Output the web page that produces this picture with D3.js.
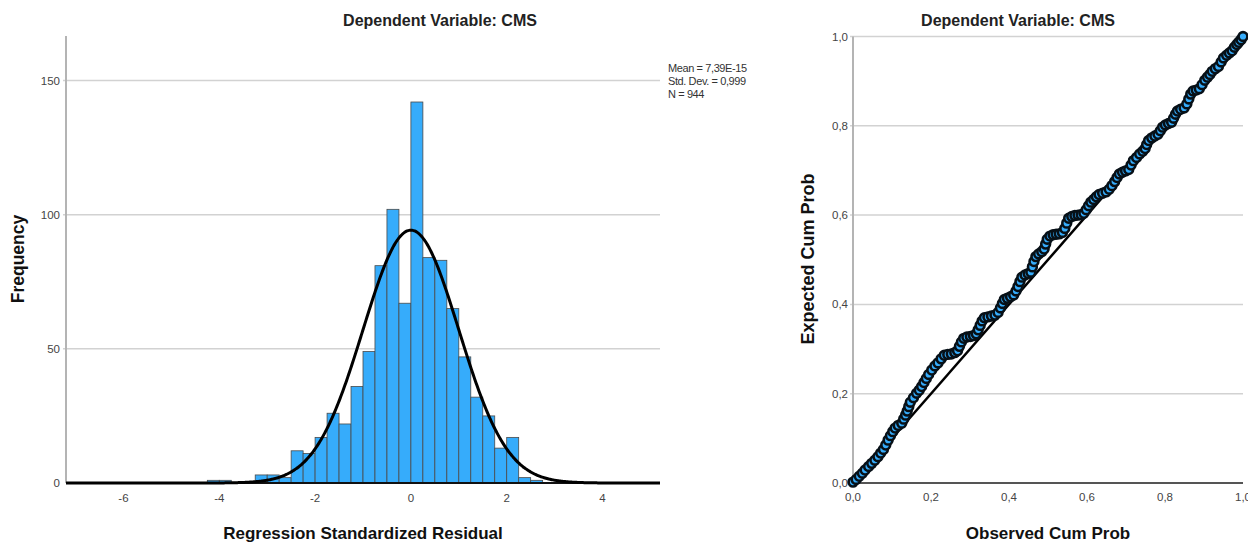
<!DOCTYPE html>
<html>
<head>
<meta charset="utf-8">
<script src="https://cdn.jsdelivr.net/npm/d3@7"></script>
<style>
  html, body { margin: 0; padding: 0; background: #fff; }
  svg { display: block; }
  text { font-family: "Liberation Sans", Arial, sans-serif; }
</style>
</head>
<body>
<svg id="chart" width="1248" height="542"></svg>
<script>
// ---------- Data ----------
const chartTitle = "Dependent Variable: CMS";
// Histogram of regression standardized residuals (bin left edges, width 0.25)
const binStarts = [-4.25, -4.0, -3.75, -3.5, -3.25, -3.0, -2.75, -2.5, -2.25, -2.0, -1.75, -1.5, -1.25, -1.0,
                   -0.75, -0.5, -0.25, 0.0, 0.25, 0.5, 0.75, 1.0, 1.25, 1.5, 1.75, 2.0, 2.25, 2.5];
const binCounts = [1, 1, 0, 0, 3, 3, 2, 12, 11, 17, 26, 22, 36, 49,
                   81, 102, 67, 142, 84, 83, 65, 47, 32, 25, 13, 17, 2, 1];
const binWidth = 0.25;
const histXTicks = [-6, -4, -2, 0, 2, 4];
const histYTicks = [0, 50, 100, 150];
const statLabels = ["Mean = 7,39E-15", "Std. Dev. = 0,999", "N = 944"];
const statMean = 7.39e-15, statSD = 0.999, statN = 944;

// Normal P-P plot (observed vs expected cumulative probability)
const ppObs = [0.000,0.008,0.016,0.024,0.031,0.040,0.048,0.056,0.064,0.071,0.078,0.084,0.090,0.096,0.102,0.108,0.116,0.125,
  0.130,0.135,0.139,0.143,0.147,0.155,0.163,0.170,0.176,0.182,0.188,0.194,0.202,0.210,0.218,0.226,0.234,0.243,0.252,0.261,
  0.268,0.273,0.278,0.284,0.292,0.301,0.309,0.316,0.321,0.326,0.331,0.337,0.346,0.355,0.364,0.372,0.378,0.383,0.388,0.396,
  0.404,0.412,0.418,0.423,0.428,0.433,0.441,0.449,0.456,0.460,0.464,0.469,0.476,0.484,0.490,0.494,0.498,0.505,0.513,0.521,
  0.529,0.537,0.543,0.548,0.553,0.561,0.569,0.577,0.585,0.592,0.598,0.604,0.610,0.617,0.624,0.631,0.640,0.649,0.657,0.664,
  0.671,0.677,0.683,0.691,0.699,0.707,0.713,0.719,0.727,0.735,0.743,0.749,0.753,0.758,0.766,0.774,0.782,0.788,0.794,0.801,
  0.809,0.817,0.822,0.827,0.832,0.840,0.849,0.856,0.861,0.866,0.872,0.880,0.888,0.895,0.902,0.909,0.915,0.921,0.929,0.937,
  0.944,0.950,0.958,0.965,0.972,0.978,0.984,0.989,0.995,1.000];
const ppExp = [0.002,0.008,0.015,0.022,0.029,0.037,0.044,0.051,0.059,0.067,0.075,0.085,0.096,0.106,0.115,0.123,0.129,0.134,
  0.143,0.152,0.161,0.171,0.181,0.191,0.201,0.208,0.216,0.225,0.234,0.243,0.253,0.262,0.269,0.278,0.286,0.288,0.289,0.292,
  0.296,0.306,0.316,0.324,0.327,0.328,0.330,0.334,0.343,0.353,0.363,0.370,0.372,0.374,0.376,0.382,0.392,0.402,0.411,0.414,
  0.417,0.421,0.430,0.440,0.451,0.461,0.466,0.469,0.472,0.484,0.496,0.507,0.513,0.518,0.524,0.535,0.546,0.553,0.556,0.557,
  0.558,0.561,0.570,0.582,0.593,0.597,0.599,0.600,0.601,0.604,0.612,0.621,0.629,0.635,0.641,0.646,0.649,0.652,0.658,0.666,
  0.675,0.684,0.692,0.696,0.699,0.702,0.712,0.722,0.729,0.737,0.743,0.749,0.758,0.767,0.773,0.777,0.781,0.789,0.797,0.802,
  0.805,0.808,0.817,0.826,0.833,0.837,0.840,0.849,0.860,0.871,0.878,0.880,0.883,0.892,0.902,0.909,0.915,0.922,0.928,0.933,
  0.943,0.952,0.958,0.963,0.968,0.976,0.982,0.987,0.993,1.000];
const ppTicks = [0, 0.2, 0.4, 0.6, 0.8, 1.0];

// ---------- Drawing ----------
const svg = d3.select("#chart");
const fmtComma = d => d3.format(".1f")(d).replace(".", ",");
const barFill = "#36acfb";
const gridCol = "#d2d2d2";
const tickTextCol = "#444";

// ===== Histogram =====
const hx = d3.scaleLinear().domain([-7.2, 5.2]).range([66, 660]);
const hy = d3.scaleLinear().domain([0, 166.6]).range([483, 36]);
const hist = svg.append("g");

hist.selectAll("line.grid").data(histYTicks.filter(d => d > 0)).enter().append("line")
  .attr("x1", hx.range()[0] - 3).attr("x2", hx.range()[1])
  .attr("y1", d => hy(d)).attr("y2", d => hy(d))
  .attr("stroke", gridCol).attr("stroke-width", 1.5);

hist.append("line").attr("x1", 66).attr("x2", 66).attr("y1", hy.range()[1]).attr("y2", hy(0))
  .attr("stroke", "#b4b4b4").attr("stroke-width", 2);

hist.selectAll("text.yt").data(histYTicks).enter().append("text")
  .attr("x", 60).attr("y", d => hy(d) + 4).attr("text-anchor", "end")
  .attr("font-size", 11.5).attr("fill", tickTextCol).text(d => d);

const bins = binStarts.map((s, i) => ({ x0: s, x1: s + binWidth, n: binCounts[i] })).filter(b => b.n > 0);
hist.selectAll("rect.bar").data(bins).enter().append("rect")
  .attr("x", d => hx(d.x0)).attr("width", d => hx(d.x1) - hx(d.x0))
  .attr("y", d => hy(d.n)).attr("height", d => hy(0) - hy(d.n))
  .attr("fill", barFill).attr("stroke", "#4a4a4a").attr("stroke-width", 0.8);

hist.append("line").attr("x1", 66).attr("x2", 660).attr("y1", hy(0)).attr("y2", hy(0))
  .attr("stroke", "#111").attr("stroke-width", 2);

// normal curve fitted from the reported mean, sd and N
const curveXs = d3.range(-7.2, 5.2001, 0.02);
const normY = x => statN * binWidth / (statSD * Math.sqrt(2 * Math.PI)) * Math.exp(-0.5 * Math.pow((x - statMean) / statSD, 2));
hist.append("path")
  .attr("d", d3.line().x(d => hx(d)).y(d => hy(normY(d))).curve(d3.curveBasis)(curveXs))
  .attr("fill", "none").attr("stroke", "#000").attr("stroke-width", 3);

hist.selectAll("text.xt").data(histXTicks).enter().append("text")
  .attr("x", d => hx(d)).attr("y", 502).attr("text-anchor", "middle")
  .attr("font-size", 11.5).attr("fill", tickTextCol).text(d => d);

hist.selectAll("text.stat").data(statLabels).enter().append("text")
  .attr("x", 668).attr("y", (d, i) => 72 + i * 13)
  .attr("font-size", 11).attr("fill", "#333").attr("letter-spacing", -0.4).text(d => d);

hist.append("text").attr("x", 440).attr("y", 26).attr("text-anchor", "middle")
  .attr("font-size", 16).attr("font-weight", "bold").attr("fill", "#222").text(chartTitle);
hist.append("text").attr("x", 363).attr("y", 539).attr("text-anchor", "middle")
  .attr("font-size", 17).attr("font-weight", "bold").attr("fill", "#111").text("Regression Standardized Residual");
hist.append("text").attr("transform", "translate(24,259) rotate(-90)").attr("text-anchor", "middle")
  .attr("font-size", 17.5).attr("font-weight", "bold").attr("fill", "#111").text("Frequency");

// ===== P-P plot =====
const px = d3.scaleLinear().domain([0, 1]).range([853, 1243]);
const py = d3.scaleLinear().domain([0, 1]).range([483, 36.5]);
const pp = svg.append("g");

pp.selectAll("line.grid").data(ppTicks.filter(d => d > 0)).enter().append("line")
  .attr("x1", px(0) - 3).attr("x2", px(1))
  .attr("y1", d => py(d)).attr("y2", d => py(d))
  .attr("stroke", gridCol).attr("stroke-width", 1.5);

pp.append("line").attr("x1", px(0)).attr("x2", px(0)).attr("y1", py(1)).attr("y2", py(0))
  .attr("stroke", "#b4b4b4").attr("stroke-width", 2);
pp.append("line").attr("x1", px(0)).attr("x2", px(1)).attr("y1", py(0)).attr("y2", py(0))
  .attr("stroke", "#555").attr("stroke-width", 2);

pp.selectAll("text.yt").data(ppTicks).enter().append("text")
  .attr("x", 848).attr("y", d => py(d) + 4).attr("text-anchor", "end")
  .attr("font-size", 11.5).attr("fill", tickTextCol).text(fmtComma);
pp.selectAll("text.xt").data(ppTicks).enter().append("text")
  .attr("x", d => px(d)).attr("y", 501).attr("text-anchor", "middle")
  .attr("font-size", 11.5).attr("fill", tickTextCol).text(fmtComma);

pp.append("line").attr("x1", px(0)).attr("y1", py(0)).attr("x2", px(1)).attr("y2", py(1))
  .attr("stroke", "#000").attr("stroke-width", 2.5);

const ppData = ppObs.map((o, i) => ({ o, e: ppExp[i] }));
pp.selectAll("circle.pt").data(ppData).enter().append("circle")
  .attr("cx", d => px(d.o)).attr("cy", d => py(d.e)).attr("r", 4.4)
  .attr("fill", barFill).attr("stroke", "#071017").attr("stroke-width", 2.6);

pp.append("text").attr("x", 1018).attr("y", 26).attr("text-anchor", "middle")
  .attr("font-size", 16).attr("font-weight", "bold").attr("fill", "#222").text(chartTitle);
pp.append("text").attr("x", 1048).attr("y", 539).attr("text-anchor", "middle")
  .attr("font-size", 17).attr("font-weight", "bold").attr("fill", "#111").text("Observed Cum Prob");
pp.append("text").attr("transform", "translate(814,259) rotate(-90)").attr("text-anchor", "middle")
  .attr("font-size", 18).attr("font-weight", "bold").attr("fill", "#111").text("Expected Cum Prob");
</script>
</body>
</html>
